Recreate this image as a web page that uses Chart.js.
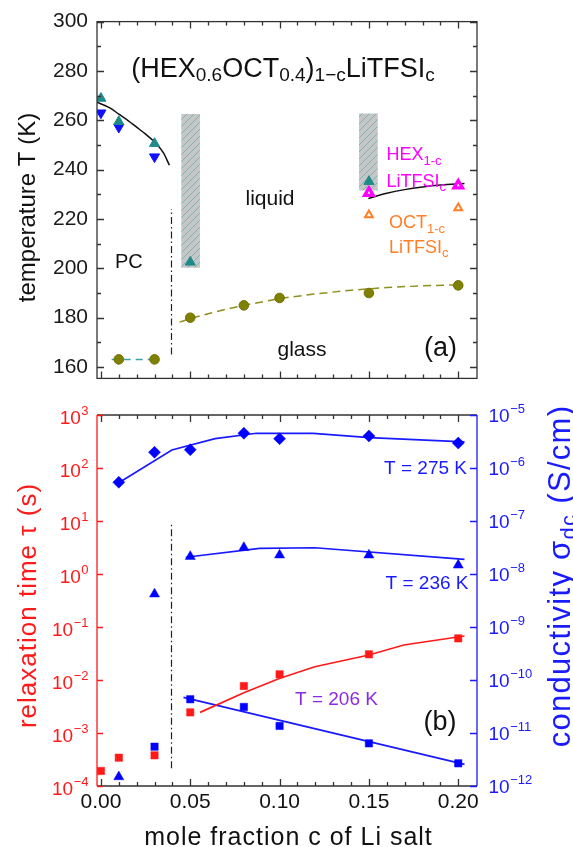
<!DOCTYPE html>
<html>
<head>
<meta charset="utf-8">
<title>(HEX0.6OCT0.4)1-cLiTFSIc phase diagram and dynamics</title>
<script src="https://cdn.jsdelivr.net/npm/chart.js@4.4.1/dist/chart.umd.min.js"></script>
<style>
  html, body { margin: 0; padding: 0; background: #fff; overflow: hidden; }
  #wrap { position: relative; width: 573px; height: 847px; overflow: hidden; }
  canvas { position: absolute; left: 0; }
</style>
</head>
<body>
<div id="wrap">
  <canvas id="phase" width="573" height="400" style="top:0"></canvas>
  <canvas id="dyn" width="573" height="448" style="top:400px"></canvas>
</div>
<script>
// ---------- panel (a): phase diagram ----------
const cPC = [0, 0.01, 0.03];
const tTransUp = [268.9, 259.5, 250.6];     // teal up triangles
const tTransDown = [263.0, 257.2, 245.2];   // blue down triangles
const cLiq = [0.05, 0.15];
const tLiq = [202.5, 235.2];                // teal up triangles in hatched range
const cGlass = [0.01, 0.03, 0.05, 0.08, 0.10, 0.15, 0.20];
const tGlass = [163.1, 163.1, 180.0, 185.0, 188.0, 190.0, 193.1];
const cRef = [0.15, 0.20];
const tHex = [230.6, 233.6];
const tOct = [221.6, 224.5];

// guide lines
const fitPcC = [-0.0022, 0.005, 0.01, 0.015, 0.02, 0.025, 0.03, 0.035, 0.0383];
const fitPcT = [267.3, 265.0, 262.5, 260.0, 257.2, 254.4, 251.2, 246.8, 241.8];
const fitLiqC = [0.1497, 0.16, 0.17, 0.18, 0.19, 0.2035];
const fitLiqT = [228.3, 230.4, 231.9, 233.0, 233.8, 234.4];
const fitGlassC = [0.044, 0.05, 0.06, 0.07, 0.08, 0.09, 0.10, 0.12, 0.14, 0.16, 0.18, 0.20];
const fitGlassT = [178.2, 179.6, 181.6, 183.4, 185.0, 186.4, 187.7, 189.6, 191.1, 192.2, 192.9, 193.3];
const pcGlassC = [0.006, 0.0326];
const pcGlassT = [163.1, 163.1];
const hatchC = [0.0502, 0.1497];
const hatchLow = [200.4, 231.7];
const hatchHigh = [262.4, 262.6];
const boundaryC = [0.0395, 0.0395];
const boundaryT = [165.1, 224.1];

// ---------- panel (b): relaxation time and conductivity ----------
const cTau = [0, 0.01, 0.03, 0.05, 0.08, 0.10, 0.15, 0.20];
const tau206 = [1.92e-4, 3.42e-4, 3.79e-4, 2.45e-3, 7.7e-3, 1.28e-2, 3.05e-2, 6.1e-2];
const cSig = [0.01, 0.03, 0.05, 0.08, 0.10, 0.15, 0.20];
const sig275 = [5.37e-7, 1.98e-6, 2.21e-6, 4.52e-6, 3.57e-6, 4.02e-6, 2.96e-6];
const sig236 = [1.49e-12, 4.18e-9, 2.14e-8, 3.16e-8, 2.28e-8, 2.28e-8, 1.47e-8];
const cSig206 = [0.03, 0.05, 0.08, 0.10, 0.15, 0.20];
const sig206 = [5.52e-12, 4.33e-11, 3.10e-11, 1.36e-11, 6.38e-12, 2.68e-12];

const fitTauC = [0.0555, 0.08, 0.1002, 0.1197, 0.15, 0.1695, 0.2035];
const fitTau = [2.45e-3, 5.77e-3, 1.08e-2, 1.78e-2, 2.96e-2, 4.57e-2, 6.76e-2];
const fit275C = [0.01, 0.0397, 0.0639, 0.0871, 0.1188, 0.1504, 0.2035];
const fit275 = [5.28e-7, 2.19e-6, 3.57e-6, 4.52e-6, 4.52e-6, 3.73e-6, 3.10e-6];
const fit236C = [0.0475, 0.0888, 0.1197, 0.2035];
const fit236 = [2.07e-8, 3.05e-8, 3.13e-8, 1.89e-8];
const fit206C = [0.0462, 0.2035];
const fit206 = [4.71e-11, 2.56e-12];
const boundaryTau = [2.16e-4, 9.7];

// axis ranges and tick labels
const xMin = -0.0022, xMax = 0.2105;
const tempMin = 155.4, tempMax = 300;
const tauExp = [-4, -3, -2, -1, 0, 1, 2, 3];
const sigExp = [-12, -11, -10, -9, -8, -7, -6, -5];

const FONT = "'Liberation Sans', Arial, sans-serif";
const AXIS = '#333';
const RED = '#ff1a1a';
const BLUE = '#1a1aff';
const TEAL = '#1f8a8a';
const OLIVE = '#808000';

const pts = (xs, ys) => xs.map((x, i) => ({x, y: ys[i]}));

// draw text with sub/superscripts; parts = [text, kind] with kind 0 normal, 1 sub, 2 sup
function rich(ctx, parts, x, y, o) {
  const small = o.small || o.size * 0.7;
  const fontOf = k => (k ? small : o.size) + 'px ' + FONT;
  ctx.letterSpacing = (o.spacing || 0) + 'px';
  let w = 0;
  for (const [t, k] of parts) { ctx.font = fontOf(k); w += ctx.measureText(t).width; }
  let cx = o.align === 'center' ? x - w / 2 : o.align === 'right' ? x - w : x;
  ctx.fillStyle = o.color;
  ctx.textAlign = 'left';
  ctx.textBaseline = 'alphabetic';
  for (const [t, k] of parts) {
    ctx.font = fontOf(k);
    const dy = k === 1 ? (o.subDy || o.size * 0.17) : k === 2 ? -(o.supDy || o.size * 0.42) : 0;
    ctx.fillText(t, cx, y + dy);
    cx += ctx.measureText(t).width;
  }
  ctx.letterSpacing = '0px';
}

function vertical(ctx, parts, bx, cy, o) {
  ctx.save();
  ctx.translate(bx, cy);
  ctx.rotate(-Math.PI / 2);
  rich(ctx, parts, 0, 0, Object.assign({align: 'center'}, o));
  ctx.restore();
}

function powLabel(ctx, e, x, py, align, color, dyBase, dySup) {
  const base = '10', exp = e < 0 ? '\u2212' + (-e) : String(e);
  ctx.font = '19px ' + FONT;
  const wb = ctx.measureText(base).width;
  ctx.font = '13px ' + FONT;
  const we = ctx.measureText(exp).width;
  const x0 = align === 'right' ? x - wb - we : x;
  ctx.fillStyle = color;
  ctx.textAlign = 'left';
  ctx.textBaseline = 'middle';
  ctx.font = '19px ' + FONT;
  ctx.fillText(base, x0, py + dyBase);
  ctx.font = '13px ' + FONT;
  ctx.fillText(exp, x0 + wb + 0.5, py + dySup);
}

function hatchPattern(ctx) {
  const p = document.createElement('canvas');
  p.width = 7; p.height = 7;
  const g = p.getContext('2d');
  g.fillStyle = '#c6c6c6';
  g.fillRect(0, 0, 7, 7);
  g.strokeStyle = '#4aa8a8';
  g.lineWidth = 0.6;
  g.beginPath();
  g.moveTo(0, 7); g.lineTo(7, 0);
  g.moveTo(-1, 1); g.lineTo(1, -1);
  g.moveTo(6, 8); g.lineTo(8, 6);
  g.stroke();
  return ctx.createPattern(p, 'repeat');
}

function xTicks(ctx, x, a) {
  for (let i = 0; i <= 20; i++) {
    const px = Math.round(x.getPixelForValue(i / 100)) + 0.5;
    const len = i % 5 ? 4 : 7;
    ctx.moveTo(px, a.bottom); ctx.lineTo(px, a.bottom - len);
    ctx.moveTo(px, a.top); ctx.lineTo(px, a.top + len);
  }
}

const phasePlugin = {
  id: 'phaseDecor',
  afterDatasetsDraw(chart) {
    const {ctx, chartArea: a, scales: {x, y}} = chart;
    ctx.save();
    ctx.strokeStyle = AXIS;
    ctx.lineWidth = 1.3;
    ctx.strokeRect(a.left, a.top, a.right - a.left, a.bottom - a.top);
    ctx.beginPath();
    xTicks(ctx, x, a);
    for (let t = 160; t <= 300; t += 10) {
      const py = Math.round(y.getPixelForValue(t)) + 0.5;
      const len = t % 20 ? 4 : 7;
      ctx.moveTo(a.left, py); ctx.lineTo(a.left + len, py);
      ctx.moveTo(a.right, py); ctx.lineTo(a.right - len, py);
    }
    ctx.stroke();

    rich(ctx, [['(HEX', 0], ['0.6', 1], ['OCT', 0], ['0.4', 1], [')', 0], ['1\u2212c', 1], ['LiTFSI', 0], ['c', 1]],
      283, 77, {size: 27, small: 19, subDy: 4, color: '#111', align: 'center'});
    rich(ctx, [['PC', 0]], 115, 268, {size: 20, color: '#111'});
    rich(ctx, [['liquid', 0]], 270, 205, {size: 21, color: '#111', align: 'center'});
    rich(ctx, [['glass', 0]], 302, 356, {size: 21, color: '#111', align: 'center'});
    rich(ctx, [['(a)', 0]], 424, 356, {size: 27, color: '#111'});
    rich(ctx, [['HEX', 0], ['1-c', 1]], 386.5, 160, {size: 18, small: 13, subDy: 5, color: '#ff00ff'});
    rich(ctx, [['LiTFSI', 0], ['c', 1]], 386.5, 186.5, {size: 18, small: 13, subDy: 4, color: '#ff00ff'});
    rich(ctx, [['OCT', 0], ['1-c', 1]], 389, 228.3, {size: 18, small: 13, subDy: 5, color: '#ff7f27'});
    rich(ctx, [['LiTFSI', 0], ['c', 1]], 389, 252.7, {size: 18, small: 13, subDy: 4, color: '#ff7f27'});
    vertical(ctx, [['temperature T (K)', 0]], 35, 207.5, {size: 24, color: '#111'});
    ctx.restore();
  }
};

const dynPlugin = {
  id: 'dynDecor',
  afterDatasetsDraw(chart) {
    const {ctx, chartArea: a, scales: {x, y, y2}} = chart;
    ctx.save();
    ctx.lineWidth = 1.3;
    ctx.strokeStyle = AXIS;
    ctx.beginPath();
    ctx.moveTo(a.left, a.top); ctx.lineTo(a.right, a.top);
    ctx.moveTo(a.left, a.bottom); ctx.lineTo(a.right, a.bottom);
    xTicks(ctx, x, a);
    ctx.stroke();
    ctx.strokeStyle = RED;
    ctx.beginPath();
    ctx.moveTo(a.left, a.top); ctx.lineTo(a.left, a.bottom);
    tauExp.forEach(e => {
      const py = Math.round(y.getPixelForValue(Math.pow(10, e))) + 0.5;
      ctx.moveTo(a.left, py); ctx.lineTo(a.left + 6, py);
    });
    ctx.stroke();
    ctx.strokeStyle = BLUE;
    ctx.beginPath();
    ctx.moveTo(a.right, a.top); ctx.lineTo(a.right, a.bottom);
    sigExp.forEach(e => {
      const py = Math.round(y2.getPixelForValue(Math.pow(10, e))) + 0.5;
      ctx.moveTo(a.right, py); ctx.lineTo(a.right - 7, py);
    });
    ctx.stroke();

    tauExp.forEach(e => powLabel(ctx, e, 88, y.getPixelForValue(Math.pow(10, e)), 'right', RED, 4, -4));
    sigExp.forEach(e => powLabel(ctx, e, 488.5, y2.getPixelForValue(Math.pow(10, e)), 'left', BLUE, 1.5, -6));

    rich(ctx, [['T = 275 K', 0]], 467, 73.5, {size: 19, color: BLUE, align: 'right'});
    rich(ctx, [['T = 236 K', 0]], 468.5, 189.3, {size: 19, color: BLUE, align: 'right'});
    rich(ctx, [['T = 206 K', 0]], 295, 305, {size: 19, color: '#8a2be2'});
    rich(ctx, [['(b)', 0]], 423.5, 329.5, {size: 27, color: '#111'});
    rich(ctx, [['mole fraction c of Li salt', 0]], 288.5, 445, {size: 25, spacing: 1, color: '#111', align: 'center'});
    vertical(ctx, [['relaxation time \u03c4 (s)', 0]], 35.5, 205.5, {size: 26, spacing: 1, color: RED});
    vertical(ctx, [['conductivity \u03c3', 0], ['dc', 1], [' (S/cm)', 0]], 569.5, 176, {size: 31, small: 22, subDy: 6, spacing: 1.3, color: BLUE});
    ctx.restore();
  }
};

const baseOpts = {
  responsive: false,
  animation: false,
  devicePixelRatio: 1,
  plugins: {legend: {display: false}, tooltip: {enabled: false}}
};

const phaseCtx = document.getElementById('phase').getContext('2d');
new Chart(phaseCtx, {
  type: 'scatter',
  data: {
    datasets: [
      {data: pts(cPC, tTransUp), pointStyle: 'triangle', pointRadius: 5.8, pointBackgroundColor: TEAL, pointBorderColor: TEAL, pointBorderWidth: 1},
      {data: pts(cLiq, tLiq), pointStyle: 'triangle', pointRadius: 5.8, pointBackgroundColor: TEAL, pointBorderColor: TEAL, pointBorderWidth: 1},
      {data: pts(cPC, tTransDown), pointStyle: 'triangle', pointRotation: 180, pointRadius: 5.8, pointBackgroundColor: '#1010ff', pointBorderColor: '#1010ff', pointBorderWidth: 1},
      {data: pts(cGlass, tGlass), pointStyle: 'circle', pointRadius: 4.8, pointBackgroundColor: OLIVE, pointBorderColor: '#707000', pointBorderWidth: 1},
      {data: pts(cRef, tHex), pointStyle: 'triangle', pointRadius: 5, pointBackgroundColor: '#fff', pointBorderColor: '#ff00ff', pointBorderWidth: 3.2},
      {data: pts(cRef, tOct), pointStyle: 'triangle', pointRadius: 4.5, pointBackgroundColor: '#fff', pointBorderColor: '#ff7f27', pointBorderWidth: 2},
      {type: 'line', order: 1, data: pts(fitPcC, fitPcT), borderColor: '#111', borderWidth: 1.5, pointRadius: 0, cubicInterpolationMode: 'monotone'},
      {type: 'line', order: 1, data: pts(fitLiqC, fitLiqT), borderColor: '#111', borderWidth: 1.5, pointRadius: 0, cubicInterpolationMode: 'monotone'},
      {type: 'line', order: 1, data: pts(fitGlassC, fitGlassT), borderColor: '#8f8f1c', borderWidth: 1.5, borderDash: [8, 5], pointRadius: 0, cubicInterpolationMode: 'monotone'},
      {type: 'line', order: 1, data: pts(pcGlassC, pcGlassT), borderColor: '#3aa0b0', borderWidth: 1.5, borderDash: [7, 5], pointRadius: 0},
      {type: 'line', order: 1, data: pts(boundaryC, boundaryT), borderColor: '#222', borderWidth: 1.2, borderDash: [7, 3, 1.5, 3], pointRadius: 0},
      {type: 'bar', order: 10, grouped: false, barThickness: 18,
       data: hatchC.map((c, i) => ({x: c, y: [hatchLow[i], hatchHigh[i]]})),
       backgroundColor: hatchPattern(phaseCtx), borderWidth: 0}
    ]
  },
  options: Object.assign({}, baseOpts, {
    layout: {padding: {top: 21, right: 96, left: 0, bottom: 0}},
    scales: {
      x: {type: 'linear', offset: false, min: xMin, max: xMax, grid: {display: false, drawTicks: false, offset: false},
          border: {display: false}, ticks: {display: false}, afterFit: s => { s.height = 10; }},
      y: {type: 'linear', min: tempMin, max: tempMax, grid: {display: false, drawTicks: false}, border: {display: false},
          ticks: {stepSize: 20, includeBounds: false, padding: 9, color: '#1a1a1a', font: {family: FONT, size: 21}},
          afterFit: s => { s.width = 97; }}
    }
  }),
  plugins: [phasePlugin]
});

new Chart(document.getElementById('dyn'), {
  type: 'scatter',
  data: {
    datasets: [
      {yAxisID: 'y', data: pts(cTau, tau206), pointStyle: 'rect', pointRadius: 5.2, pointBackgroundColor: RED, pointBorderColor: RED, pointBorderWidth: 0.5},
      {yAxisID: 'y2', data: pts(cSig, sig275), pointStyle: 'rectRot', pointRadius: 6, pointBackgroundColor: '#0000ff', pointBorderColor: '#0000ff', pointBorderWidth: 0.5},
      {yAxisID: 'y2', data: pts(cSig, sig236), pointStyle: 'triangle', pointRadius: 5.8, pointBackgroundColor: '#0000ff', pointBorderColor: '#0000ff', pointBorderWidth: 0.5},
      {yAxisID: 'y2', data: pts(cSig206, sig206), pointStyle: 'rect', pointRadius: 5.2, pointBackgroundColor: '#0000ff', pointBorderColor: '#0000ff', pointBorderWidth: 0.5},
      {type: 'line', order: 1, yAxisID: 'y', data: pts(fitTauC, fitTau), borderColor: RED, borderWidth: 1.7, pointRadius: 0},
      {type: 'line', order: 1, yAxisID: 'y2', data: pts(fit275C, fit275), borderColor: BLUE, borderWidth: 1.7, pointRadius: 0},
      {type: 'line', order: 1, yAxisID: 'y2', data: pts(fit236C, fit236), borderColor: BLUE, borderWidth: 1.7, pointRadius: 0},
      {type: 'line', order: 1, yAxisID: 'y2', data: pts(fit206C, fit206), borderColor: BLUE, borderWidth: 1.7, pointRadius: 0},
      {type: 'line', order: 1, yAxisID: 'y', data: pts(boundaryC, boundaryTau), borderColor: '#222', borderWidth: 1.2, borderDash: [7, 3, 1.5, 3], pointRadius: 0}
    ]
  },
  options: Object.assign({}, baseOpts, {
    layout: {padding: {top: 15, right: 0, left: 0, bottom: 0}},
    scales: {
      x: {type: 'linear', offset: false, min: xMin, max: xMax, grid: {display: false, drawTicks: false}, border: {display: false},
          ticks: {stepSize: 0.05, includeBounds: false, padding: 4, color: '#111', font: {family: FONT, size: 21},
                  callback: v => v.toFixed(2)},
          afterFit: s => { s.height = 62; }},
      y: {type: 'logarithmic', position: 'left', min: 1e-4, max: 1e3, grid: {display: false, drawTicks: false},
          border: {display: false}, ticks: {display: false}, afterFit: s => { s.width = 97; }},
      y2: {type: 'logarithmic', position: 'right', min: 1e-12, max: 1e-5, grid: {display: false, drawTicks: false},
           border: {display: false}, ticks: {display: false}, afterFit: s => { s.width = 96; }}
    }
  }),
  plugins: [dynPlugin]
});
</script>
</body>
</html>
